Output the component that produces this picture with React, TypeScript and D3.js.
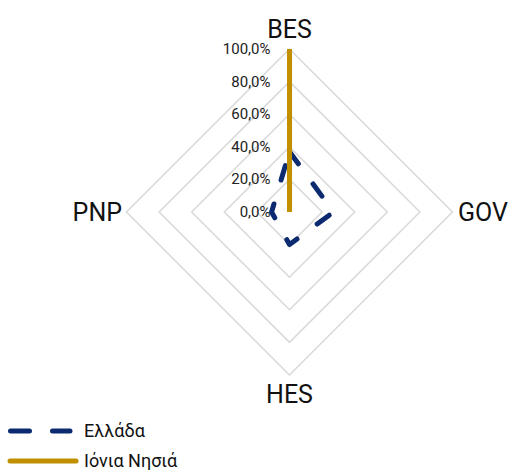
import React from "react";
import * as d3 from "d3";

const axes = ["BES", "GOV", "HES", "PNP"];
const ticks = [0, 0.2, 0.4, 0.6, 0.8, 1.0];
const tickLabels = ["0,0%", "20,0%", "40,0%", "60,0%", "80,0%", "100,0%"];
const greece = [0.37, 0.27, 0.2, 0.11];
const ionian = [1.0, 0, 0, 0];
const seriesNames = ["Ελλάδα", "Ιόνια Νησιά"];
const colors = ["#0b2a6f", "#c09000"];

export default function App() {
  const W = 509, H = 470;
  const cx = 289.5, cy = 212;
  const r = d3.scaleLinear().domain([0, 1]).range([0, 163]);
  const angle = (i: number) => (i * 2 * Math.PI) / axes.length;
  const pt = (i: number, v: number): [number, number] => [
    cx + r(v) * Math.sin(angle(i)),
    cy - r(v) * Math.cos(angle(i)),
  ];
  const line = d3.line<[number, number]>().curve(d3.curveLinearClosed);
  const font = "Roboto, 'DejaVu Sans', sans-serif";
  const labelPos = [
    { x: cx, y: 38, anchor: "middle" },
    { x: 458, y: 221, anchor: "start" },
    { x: cx, y: 403, anchor: "middle" },
    { x: 122, y: 221, anchor: "end" },
  ];
  return (
    <svg width={W} height={H} style={{ position: "absolute", left: 0, top: 0 }}>
      <rect width={W} height={H} fill="#fff" />
      {ticks.slice(1).map((t) => (
        <path
          key={t}
          d={line(axes.map((_, i) => pt(i, t))) || ""}
          fill="none"
          stroke="#d9d9d9"
          strokeWidth={1.5}
        />
      ))}
      {ticks.map((t, k) => (
        <text
          key={t}
          x={cx - 19}
          y={cy - r(t) + 5}
          textAnchor="end"
          fontFamily={font}
          fontSize={15}
          fill="#222"
        >
          {tickLabels[k]}
        </text>
      ))}
      {axes.map((a, i) => (
        <text
          key={a}
          x={labelPos[i].x}
          y={labelPos[i].y}
          textAnchor={labelPos[i].anchor as any}
          fontFamily={font}
          fontSize={25}
          fill="#111"
        >
          {a}
        </text>
      ))}
      <path
        d={line(greece.map((v, i) => pt(i, v))) || ""}
        fill="none"
        stroke={colors[0]}
        strokeWidth={5}
        strokeDasharray="15 25"
        strokeLinecap="round"
        strokeLinejoin="round"
      />
      <path
        d={line(ionian.map((v, i) => pt(i, v))) || ""}
        fill="none"
        stroke={colors[1]}
        strokeWidth={5}
        strokeLinejoin="miter"
      />
      <line x1={10.5} x2={70} y1={431} y2={431} stroke={colors[0]} strokeWidth={5} strokeDasharray="19 23" strokeLinecap="round" />
      <text x={84} y={437} fontFamily={font} fontSize={18} fill="#111">{seriesNames[0]}</text>
      <line x1={10} x2={76} y1={461} y2={461} stroke={colors[1]} strokeWidth={5} strokeLinecap="round" />
      <text x={84} y={467} fontFamily={font} fontSize={18} fill="#111">{seriesNames[1]}</text>
    </svg>
  );
}
